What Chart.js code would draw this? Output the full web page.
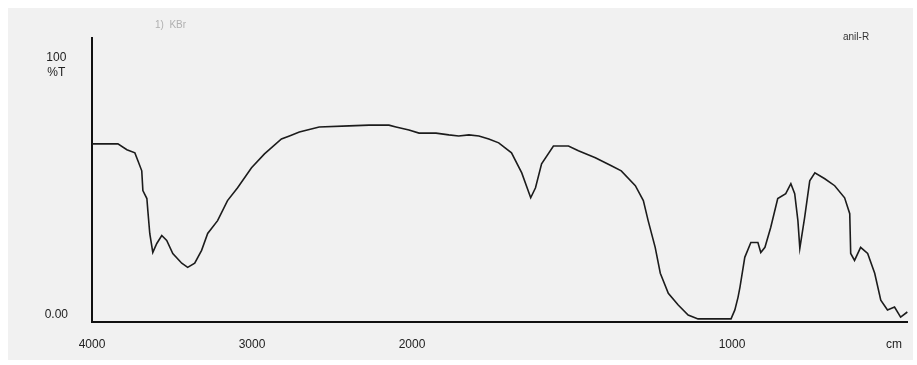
<!DOCTYPE html>
<html>
<head>
    <title>IR spectrum</title>
    <meta charset="utf-8">
    <style>
        body {
            margin: 0;
            padding: 0;
            background-color: #ffffff;
        }
        #ir-chart {
            display: block;
        }
    </style>
    <script src="https://cdn.jsdelivr.net/npm/chart.js"></script>
</head>
<body>
    <canvas id="ir-chart" width="917" height="365"></canvas>

    <script>
        // wavenumbers (cm-1) and %T
        const wavenumbers = [4000, 3838, 3782, 3732, 3713, 3689, 3682, 3657, 3651, 3639,
            3620, 3595, 3564, 3533, 3495, 3439, 3402, 3358, 3315, 3277,
            3215, 3153, 3090, 3003, 2922, 2816, 2766, 2704, 2580, 2393,
            2268, 2144, 2100, 2019, 1978, 1925, 1885, 1854, 1822, 1791,
            1760, 1729, 1689, 1657, 1629, 1614, 1595, 1558, 1511, 1480,
            1427, 1377, 1346, 1302, 1277, 1262, 1240, 1224, 1199, 1168,
            1137, 1106, 1003, 991, 981, 975, 960, 941, 919, 910,
            897, 879, 857, 832, 816, 804, 794, 788, 773, 757,
            741, 710, 679, 648, 632, 629, 617, 598, 576, 554,
            535, 514, 492, 473, 452];
        const transmittance = [69.4, 69.4, 67.1, 65.9, 62.8, 58.9, 51.2, 48.1, 43.4, 34.5,
            27.1, 30.6, 33.7, 31.8, 26.7, 22.9, 21.3, 22.9, 27.9, 34.5,
            39.5, 47.3, 52.3, 60.1, 65.5, 71.3, 72.5, 74.0, 76.0, 76.4,
            76.7, 76.7, 76.0, 74.8, 73.6, 73.6, 72.9, 72.5, 72.9, 72.5,
            71.3, 69.8, 65.9, 58.1, 48.4, 52.3, 61.6, 68.6, 68.6, 66.7,
            64.0, 60.9, 58.9, 53.1, 47.3, 39.5, 29.1, 19.0, 11.2, 6.6,
            2.7, 1.2, 1.2, 4.7, 9.7, 13.6, 25.2, 31.0, 31.0, 27.1,
            29.1, 36.8, 48.1, 50.0, 53.9, 50.0, 39.5, 28.7, 40.7, 55.0,
            58.1, 55.8, 53.1, 48.4, 42.2, 26.7, 24.0, 29.1, 26.7, 19.0,
            8.5, 4.7, 5.8, 1.9, 3.9];

        const xTickWavenumbers = [4000, 3000, 2000, 1000, 494];
        const xTickLabels = ['4000', '3000', '2000', '1000', 'cm'];
        const yTickValues = [0, 100];
        const yTickLabels = [['0.00', ''], ['100', '%T']];

        // spectrometer scale: 4000-2000 compressed, below 2000 doubled
        function toAxis(wn) {
            return wn >= 2000 ? 4000 - wn : 2000 + 2 * (2000 - wn);
        }

        const points = wavenumbers.map((wn, i) => ({ x: toAxis(wn), y: transmittance[i] }));

        const paperPlugin = {
            id: 'paper',
            beforeDraw(chart) {
                const ctx = chart.ctx;
                ctx.save();
                ctx.fillStyle = '#f1f1f1';
                ctx.fillRect(8, 8, 905, 352);
                ctx.restore();
            },
            afterDraw(chart) {
                const ctx = chart.ctx;
                ctx.save();
                ctx.font = '10px "Liberation Sans"';
                ctx.textBaseline = 'middle';
                ctx.fillStyle = '#b0b0b0';
                ctx.fillText('1)  KBr', 155, 25);
                ctx.fillStyle = '#333333';
                ctx.fillText('anil-R', 843, 37);
                ctx.restore();
            }
        };

        const irChart = new Chart(document.getElementById('ir-chart'), {
            type: 'line',
            data: {
                datasets: [{
                    label: '%T',
                    data: points,
                    borderColor: '#1c1c1c',
                    borderWidth: 1.6,
                    pointRadius: 0,
                    tension: 0,
                    fill: false
                }]
            },
            options: {
                responsive: false,
                animation: false,
                layout: {
                    padding: { top: 37, right: 6, left: 0, bottom: 0 }
                },
                plugins: {
                    legend: { display: false },
                    tooltip: { enabled: false }
                },
                scales: {
                    x: {
                        type: 'linear',
                        min: 0,
                        max: toAxis(450),
                        grid: { display: false, drawTicks: false },
                        border: { color: '#111111', width: 2 },
                        afterFit(scale) { scale.height = 43; },
                        afterBuildTicks(scale) {
                            scale.ticks = xTickWavenumbers.map(wn => ({ value: toAxis(wn) }));
                        },
                        ticks: {
                            padding: 15,
                            maxRotation: 0,
                            color: '#222222',
                            font: { family: 'Liberation Sans', size: 12 },
                            callback(value) {
                                const i = xTickWavenumbers.findIndex(wn => toAxis(wn) === value);
                                return i >= 0 ? xTickLabels[i] : '';
                            }
                        }
                    },
                    y: {
                        min: 0,
                        max: 110.5,
                        grid: { display: false, drawTicks: false },
                        border: { color: '#111111', width: 2 },
                        afterFit(scale) { scale.width = 92; },
                        afterBuildTicks(scale) {
                            scale.ticks = yTickValues.map(v => ({ value: v }));
                        },
                        ticks: {
                            padding: 24,
                            crossAlign: 'center',
                            color: '#222222',
                            font: { family: 'Liberation Sans', size: 12 },
                            callback(value) {
                                const i = yTickValues.indexOf(value);
                                return i >= 0 ? yTickLabels[i] : '';
                            }
                        }
                    }
                }
            },
            plugins: [paperPlugin]
        });
    </script>
</body>
</html>
